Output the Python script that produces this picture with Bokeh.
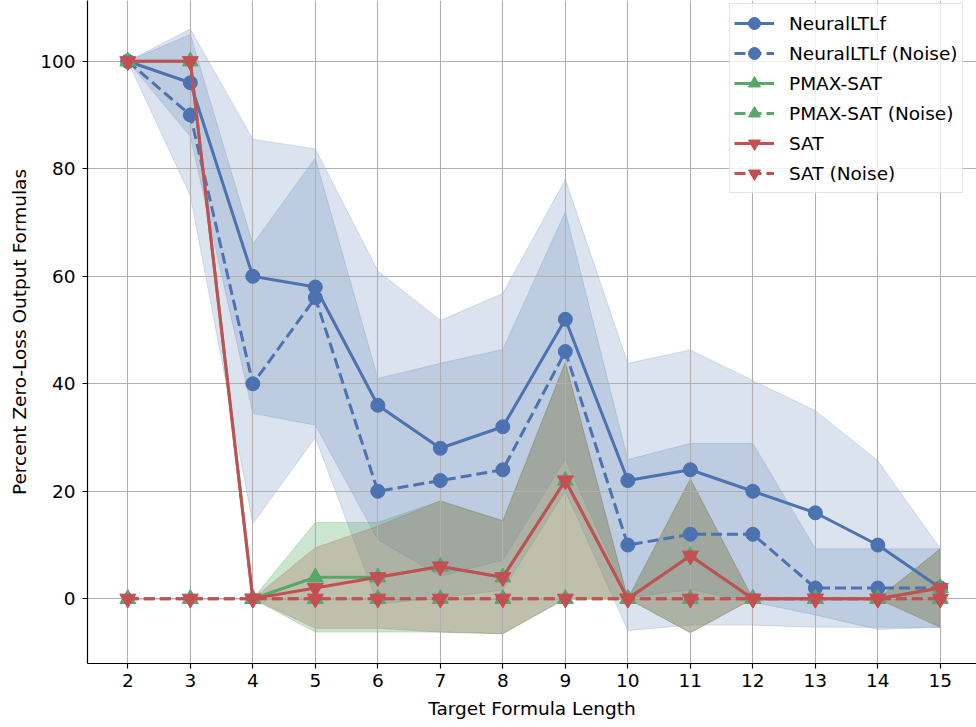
from bokeh.plotting import figure
from bokeh.models import Range1d, SingleIntervalTicker, Legend, LegendItem, ColumnDataSource
from bokeh.embed import file_html
from bokeh.resources import INLINE

# ---- data ----
lengths = [2, 3, 4, 5, 6, 7, 8, 9, 10, 11, 12, 13, 14, 15]

neural_mean = [100, 96, 60, 58, 36, 28, 32, 52, 22, 24, 20, 16, 10, 2]
neural_std = [0, 10, 25.5, 25.7, 25, 23.8, 24.8, 26, 21.8, 22.3, 20.6, 19, 15.7, 7.3]

neural_noise_mean = [100, 90, 40, 56, 20, 22, 24, 46, 10, 12, 12, 2, 2, 2]
neural_noise_std = [0, 15, 26, 26, 21, 21.8, 22.4, 26, 15.9, 16.9, 16.9, 7.3, 7.3, 7.3]

pmax_mean = [100, 100, 0, 4, 4, 6, 4, 22, 0, 8, 0, 0, 0, 2]
pmax_std = [0, 0, 0, 10.2, 10.2, 12.2, 10.5, 22, 0, 14.3, 0, 0, 0, 7.3]

pmax_noise_mean = [0, 0, 0, 0, 0, 0, 0, 0, 0, 0, 0, 0, 0, 0]
pmax_noise_std = [0, 0, 0, 0, 0, 0, 0, 0, 0, 0, 0, 0, 0, 0]

sat_mean = [100, 100, 0, 2, 4, 6, 4, 22, 0, 8, 0, 0, 0, 2]
sat_std = [0, 0, 0, 7.5, 9.5, 12.2, 10.5, 22, 0, 14.3, 0, 0, 0, 7.3]

sat_noise_mean = [0, 0, 0, 0, 0, 0, 0, 0, 0, 0, 0, 0, 0, 0]
sat_noise_std = [0, 0, 0, 0, 0, 0, 0, 0, 0, 0, 0, 0, 0, 0]

x_label = "Target Formula Length"
y_label = "Percent Zero-Loss Output Formulas"

BLUE = "#4C72B0"
GREEN = "#55A868"
RED = "#C44E52"
FONT = "DejaVu Sans"
FS = "18.5px"

series = [
    ("NeuralLTLf", neural_mean, neural_std, BLUE, "circle", "solid", 0.2),
    ("NeuralLTLf (Noise)", neural_noise_mean, neural_noise_std, BLUE, "circle", "11 5", 0.2),
    ("PMAX-SAT", pmax_mean, pmax_std, GREEN, "triangle", "solid", 0.3),
    ("PMAX-SAT (Noise)", pmax_noise_mean, pmax_noise_std, GREEN, "triangle", "11 5", 0.3),
    ("SAT", sat_mean, sat_std, RED, "inverted_triangle", "solid", 0.3),
    ("SAT (Noise)", sat_noise_mean, sat_noise_std, RED, "inverted_triangle", "11 5", 0.3),
]

p = figure(width=976, height=727, output_backend="svg", toolbar_location=None,
           x_range=Range1d(1.355, 15.578), y_range=Range1d(-12.04, 111.31),
           min_border_left=87, min_border_right=0, min_border_top=0,
           min_border_bottom=64)
p.outline_line_color = None
p.background_fill_color = "white"
p.border_fill_color = "white"

# bands (below grid, as in matplotlib); red band first, green over it
band_order = [0, 1, 4, 5, 2, 3]
for i in band_order:
    name, m, s, col, mk, dash, alpha = series[i]
    upper = [a + b for a, b in zip(m, s)]
    lower = [a - b for a, b in zip(m, s)]
    xs = lengths + lengths[::-1]
    ys = upper + lower[::-1]
    p.patch(xs, ys, fill_color=col, fill_alpha=alpha, line_color=col,
            line_alpha=alpha, line_width=1, level="image")

items = []
for name, m, s, col, mk, dash, alpha in series:
    src = ColumnDataSource(dict(x=lengths, y=m))
    lr = p.line("x", "y", source=src, line_color=col, line_width=3, line_dash=dash)
    size = 14 if mk == "circle" else 16
    sr = p.scatter("x", "y", source=src, marker=mk, size=size, fill_color=col,
                   line_color=col, line_width=1)
    items.append(LegendItem(label=name, renderers=[lr, sr]))

p.xaxis.ticker = SingleIntervalTicker(interval=1)
p.yaxis.ticker = SingleIntervalTicker(interval=20)
p.xaxis.axis_label = x_label
p.yaxis.axis_label = y_label
for ax in (p.xaxis, p.yaxis):
    ax.axis_line_color = "black"
    ax.axis_line_width = 1.2
    ax.major_tick_line_color = "black"
    ax.major_tick_line_width = 1.2
    ax.major_tick_out = 5
    ax.major_tick_in = 0
    ax.minor_tick_line_color = None
    ax.major_label_text_font = FONT
    ax.major_label_text_font_size = FS
    ax.major_label_text_color = "black"
    ax.axis_label_text_font = FONT
    ax.axis_label_text_font_size = FS
    ax.axis_label_text_font_style = "normal"
    ax.axis_label_text_color = "black"
p.xaxis.major_label_standoff = 5
p.yaxis.major_label_standoff = 7
p.xaxis.axis_label_standoff = 8
p.yaxis.axis_label_standoff = 7

p.grid.grid_line_color = "#b0b0b0"
p.grid.grid_line_width = 1.1
p.grid.grid_line_alpha = 1.0

legend = Legend(items=items, location=(642, 470))
legend.label_text_font = FONT
legend.label_text_font_size = FS
legend.label_text_color = "black"
legend.glyph_width = 40
legend.glyph_height = 30
legend.label_height = 22
legend.label_standoff = 15
legend.spacing = 0
legend.padding = 4
legend.margin = 0
legend.border_line_color = "#cccccc"
legend.border_line_width = 1
legend.background_fill_color = "white"
legend.background_fill_alpha = 0.8
p.add_layout(legend)

open("out.html", "w").write(file_html(p, INLINE))
